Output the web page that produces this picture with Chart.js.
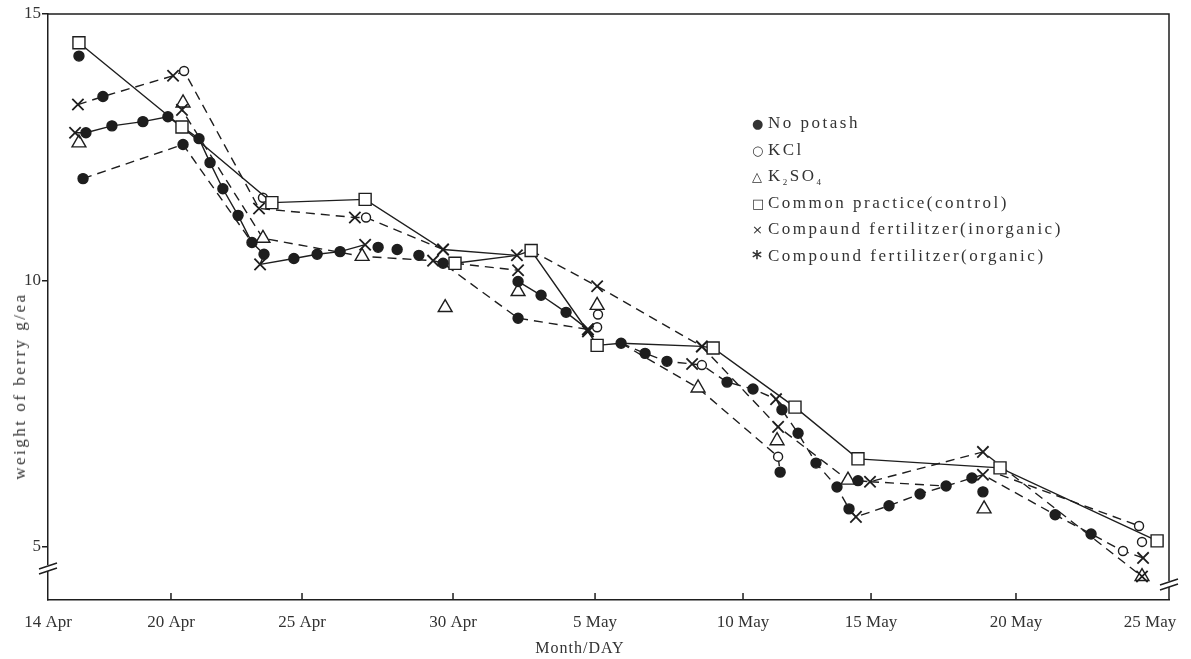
<!DOCTYPE html>
<html lang="en">
<head>
  <meta charset="UTF-8" />
  <title>Berry weight</title>
  <style>
    body {
      margin: 0;
      background: #fff;
    }

    #wrap {
      position: relative;
      width: 1191px;
      height: 659px;
      font-family: 'Liberation Serif', 'DejaVu Serif', serif;
      color: #333;
    }

    #legend {
      position: absolute;
      left: 752px;
      top: 110px;
      font-size: 17px;
      letter-spacing: 2.5px;
      white-space: nowrap;
    }

    #legend div {
      height: 26.6px;
      line-height: 26.6px;
    }

    #legend .sym {
      display: inline-block;
      width: 16px;
      font-family: 'DejaVu Sans', sans-serif;
      font-size: 13px;
      letter-spacing: 0;
    }

    #legend .star {
      font-size: 19px;
      font-weight: bold;
      vertical-align: -3px;
    }

    #legend sub {
      font-size: 9px;
      line-height: 0;
    }

    #ytitle {
      position: absolute;
      left: 20px;
      top: 386px;
      transform: translate(-50%, -50%) rotate(-90deg);
      font-size: 17px;
      letter-spacing: 2.5px;
      white-space: nowrap;
    }

    #xtitle {
      position: absolute;
      left: 580px;
      top: 648px;
      transform: translate(-50%, -50%);
      font-size: 16px;
      letter-spacing: 1px;
    }
  </style>
</head>
<body>
  <div id="wrap">
    <canvas id="berryChart" width="1191" height="659"></canvas>
    <div id="legend">
      <div><span class="sym">●</span>No potash</div>
      <div><span class="sym">○</span>KCl</div>
      <div><span class="sym">△</span>K<sub>2</sub>SO<sub>4</sub></div>
      <div><span class="sym">□</span>Common practice(control)</div>
      <div><span class="sym">×</span>Compaund fertilitzer(inorganic)</div>
      <div><span class="sym star">*</span>Compound fertilitzer(organic)</div>
    </div>
    <div id="ytitle">weight of berry g/ea</div>
    <div id="xtitle">Month/DAY</div>
  </div>

  <script src="https://cdn.jsdelivr.net/npm/chart.js@4"></script>
  <script>
    // x values are days after 14 Apr; marks: f filled circle, o open circle,
    // t triangle, s square, x cross, - no marker
    const tickDays = [0, 6, 11, 16, 21, 26, 31, 36, 41];
    const tickLabels = ['14 Apr', '20 Apr', '25 Apr', '30 Apr', '5 May', '10 May', '15 May', '20 May', '25 May'];
    const yTicks = [5, 10, 15];

    // common practice, solid line
    const ctrlDays = [1.51, 6.42, 9.85, 13.09, 15.67, 18.25, 18.75, 20.75, 21.07, 21.88, 24.61, 24.99, 28.03, 30.49, 35.45, 41.26];
    const ctrlVals = [14.46, 12.88, 11.46, 11.52, 10.58, 10.47, 10.56, 9.04, 8.78, 8.82, 8.76, 8.73, 7.62, 6.65, 6.48, 5.11];
    const ctrlMarks = ['s', 's', 's', 's', 'x', 'x', 's', 'x', 's', 'f', 'x', 's', 's', 's', 's', 's'];

    const ctrl2Days = [16.07, 18.25];
    const ctrl2Vals = [10.32, 10.47];
    const ctrl2Marks = ['s', '-'];

    // no potash, solid line with dots
    const noKDays = [1.32, 1.85, 3.12, 4.63, 5.85, 7.07, 7.49, 7.98, 8.56, 9.09, 9.55, 9.40, 10.69, 11.5, 12.26, 13.09];
    const noKVals = [12.77, 12.77, 12.90, 12.98, 13.07, 12.66, 12.21, 11.72, 11.22, 10.71, 10.49, 10.30, 10.41, 10.49, 10.54, 10.67];
    const noKMarks = ['x', 'f', 'f', 'f', 'f', 'f', 'f', 'f', 'f', 'f', 'f', 'x', 'f', 'f', 'f', 'x'];

    const noK2Days = [18.29, 19.1, 19.98, 20.75];
    const noK2Vals = [9.98, 9.72, 9.40, 9.08];
    const noK2Marks = ['f', 'f', 'f', 'x'];

    // inorganic compound, upper dashed lines
    const inorgDays = [1.46, 2.68, 6.08, 6.5, 9.36, 12.75, 13.12, 15.67];
    const inorgVals = [13.30, 13.45, 13.84, 13.93, 11.35, 11.18, 11.18, 10.58];
    const inorgMarks = ['x', 'f', 'x', 'o', 'x', 'x', 'o', 'x'];

    const inorg2Days = [18.75, 21.07, 24.61, 27.37, 30.1, 30.49, 30.96, 34.86, 40.7];
    const inorg2Vals = [10.56, 9.89, 8.76, 7.25, 6.25, 6.24, 6.22, 6.78, 4.44];
    const inorg2Marks = ['-', 'x', 'x', 'x', 't', 'f', 'x', 'x', 'x'];

    // lower dashed lines
    const lowDays = [1.71, 6.46, 9.09];
    const lowVals = [11.91, 12.55, 10.71];
    const lowMarks = ['f', 'f', '-'];

    const triDays = [6.46, 6.42, 9.51, 12.99, 15.34, 15.67, 18.29, 20.75, 21.07];
    const triVals = [13.33, 13.20, 10.79, 10.45, 10.37, 10.32, 9.29, 9.08, 9.12];
    const triMarks = ['t', 'x', 't', 't', 'x', 'f', 'f', 'x', 'o'];

    const dotDays = [21.88, 22.69, 23.43, 24.28, 24.61, 25.46, 26.39, 27.29, 27.52, 28.15, 28.85, 29.67, 30.14, 30.41, 31.62, 32.69, 33.59, 34.48, 34.86, 37.46, 38.8, 39.99, 40.74];
    const dotVals = [8.82, 8.63, 8.48, 8.43, 8.41, 8.09, 7.96, 7.77, 7.57, 7.13, 6.57, 6.12, 5.71, 5.56, 5.77, 5.99, 6.14, 6.29, 6.35, 5.60, 5.24, 4.92, 4.79];
    const dotMarks = ['-', 'f', 'f', 'x', 'o', 'f', 'f', 'x', 'f', 'f', 'f', 'f', 'f', 'x', 'f', 'f', 'f', 'f', 'x', 'f', 'f', 'o', 'x'];

    const tri2Days = [21.88, 24.48, 27.37, 27.45];
    const tri2Vals = [8.82, 7.98, 6.69, 6.40];
    const tri2Marks = ['-', 't', 'o', 'f'];

    const midDays = [30.96, 33.59];
    const midVals = [6.22, 6.14];

    const kclDays = [35.45, 40.59];
    const kclVals = [6.35, 5.39];
    const kclMarks = ['-', 'o'];

    const stubDays = [16.07, 18.29];
    const stubVals = [10.32, 10.19];
    const stubMarks = ['-', 'x'];

    // single readings with no line
    const looseDays = [1.51, 1.51, 9.51, 13.52, 14.15, 14.87, 15.74, 18.29, 21.07, 21.1, 27.33, 34.86, 34.9, 40.7, 40.7];
    const looseVals = [14.21, 12.58, 11.55, 10.62, 10.58, 10.47, 9.49, 9.79, 9.53, 9.36, 6.99, 6.03, 5.71, 5.09, 4.44];
    const looseMarks = ['f', 't', 'o', 'f', 'f', 'f', 't', 't', 't', 'o', 't', 'f', 't', 'o', 't'];

    const ink = '#1e1e1e';
    const textColor = '#333';

    // the printed date axis is not evenly spaced: where each tick date sits along it
    const knotDays = [0, 6, 11, 16, 21, 26, 31, 36, 41, 41.7];
    const knotFrac = [0, 0.1097, 0.2266, 0.3613, 0.488, 0.62, 0.7342, 0.8635, 0.9831, 1];

    function interp(v, from, to) {
      let i = 1;
      while (i < from.length - 1 && v > from[i]) i++;
      const t = (v - from[i - 1]) / (from[i] - from[i - 1]);
      return to[i - 1] + t * (to[i] - to[i - 1]);
    }

    class PrintedDateScale extends Chart.LinearScale {
      static id = 'printedDate';
      static defaults = {};
      getPixelForValue(value) {
        return this.getPixelForDecimal(interp(value, knotDays, knotFrac));
      }
      getValueForPixel(pixel) {
        return interp(this.getDecimalForPixel(pixel), knotFrac, knotDays);
      }
    }
    Chart.register(PrintedDateScale);

    const markStyle = { f: 'circle', o: 'circle', t: 'triangle', s: 'rect', x: 'crossRot', '-': 'circle' };
    const markSize = { f: 5, o: 4.5, t: 8, s: 8.5, x: 8, '-': 0 };

    function series(days, vals, marks, dashed, showLine = true) {
      return {
        data: days.map((d, i) => ({ x: d, y: vals[i], m: marks[i] })),
        showLine,
        borderColor: ink,
        borderWidth: 1.4,
        borderDash: dashed ? [9, 6] : [],
        fill: false,
        tension: 0,
        pointStyle: c => markStyle[c.raw.m],
        pointRadius: c => markSize[c.raw.m],
        pointBackgroundColor: c => (c.raw.m === 'f' ? ink : '#fff'),
        pointBorderColor: ink,
        pointBorderWidth: c => (c.raw.m === 'x' ? 1.8 : 1.4)
      };
    }

    const datasets = [
      series(ctrlDays, ctrlVals, ctrlMarks, false),
      series(ctrl2Days, ctrl2Vals, ctrl2Marks, false),
      series(noKDays, noKVals, noKMarks, false),
      series(noK2Days, noK2Vals, noK2Marks, false),
      series(inorgDays, inorgVals, inorgMarks, true),
      series(inorg2Days, inorg2Vals, inorg2Marks, true),
      series(lowDays, lowVals, lowMarks, true),
      series(triDays, triVals, triMarks, true),
      series(dotDays, dotVals, dotMarks, true),
      series(tri2Days, tri2Vals, tri2Marks, true),
      series(midDays, midVals, ['-', '-'], true),
      series(kclDays, kclVals, kclMarks, true),
      series(stubDays, stubVals, stubMarks, true),
      series(looseDays, looseVals, looseMarks, false, false)
    ];

    // top/right frame, inward date ticks and the axis break marks
    const framePlugin = {
      id: 'frame',
      afterDraw(chart) {
        const { ctx, chartArea: a, scales: { x, y } } = chart;
        ctx.save();
        ctx.strokeStyle = ink;
        ctx.lineWidth = 1.5;
        ctx.beginPath();
        ctx.moveTo(a.left, a.top);
        ctx.lineTo(a.right, a.top);
        ctx.lineTo(a.right, a.bottom);
        x.ticks.forEach((t, i) => {
          if (i === 0 || i === x.ticks.length - 1) return;
          const px = x.getPixelForValue(t.value);
          ctx.moveTo(px, a.bottom);
          ctx.lineTo(px, a.bottom - 7);
        });
        ctx.stroke();

        const brk = (x0, y0) => {
          ctx.fillStyle = '#fff';
          ctx.fillRect(x0 - 3, y0 - 3, 6, 6);
          ctx.beginPath();
          ctx.moveTo(x0 - 9, y0 + 1);
          ctx.lineTo(x0 + 9, y0 - 5);
          ctx.moveTo(x0 - 9, y0 + 6);
          ctx.lineTo(x0 + 9, y0);
          ctx.stroke();
        };
        brk(a.left, y.getPixelForValue(4.6));
        brk(a.right, y.getPixelForValue(4.3));
        ctx.restore();
      }
    };

    const tickFont = { family: "'Liberation Serif', serif", size: 17 };

    new Chart(document.getElementById('berryChart').getContext('2d'), {
      type: 'line',
      data: { datasets },
      options: {
        responsive: false,
        animation: false,
        layout: { padding: { top: 14, right: 22, left: 0, bottom: 0 } },
        plugins: {
          legend: { display: false },
          tooltip: { enabled: false }
        },
        scales: {
          x: {
            type: 'printedDate',
            min: 0,
            max: 41.7,
            afterFit: s => { s.height = 59; },
            afterBuildTicks: s => { s.ticks = tickDays.map(v => ({ value: v })); },
            ticks: {
              callback: (v, i) => tickLabels[i],
              font: tickFont,
              color: textColor,
              padding: 4,
              maxRotation: 0,
              autoSkip: false
            },
            grid: { display: false },
            border: { display: true, color: ink, width: 1.5 }
          },
          y: {
            type: 'linear',
            min: 4,
            max: 15,
            afterFit: s => { s.width = 48; },
            afterBuildTicks: s => { s.ticks = yTicks.map(v => ({ value: v })); },
            ticks: { font: tickFont, color: textColor, padding: 1 },
            grid: { drawOnChartArea: false, tickLength: 6, color: ink, lineWidth: 1.5 },
            border: { display: true, color: ink, width: 1.5 }
          }
        }
      },
      plugins: [framePlugin]
    });
  </script>
</body>
</html>
